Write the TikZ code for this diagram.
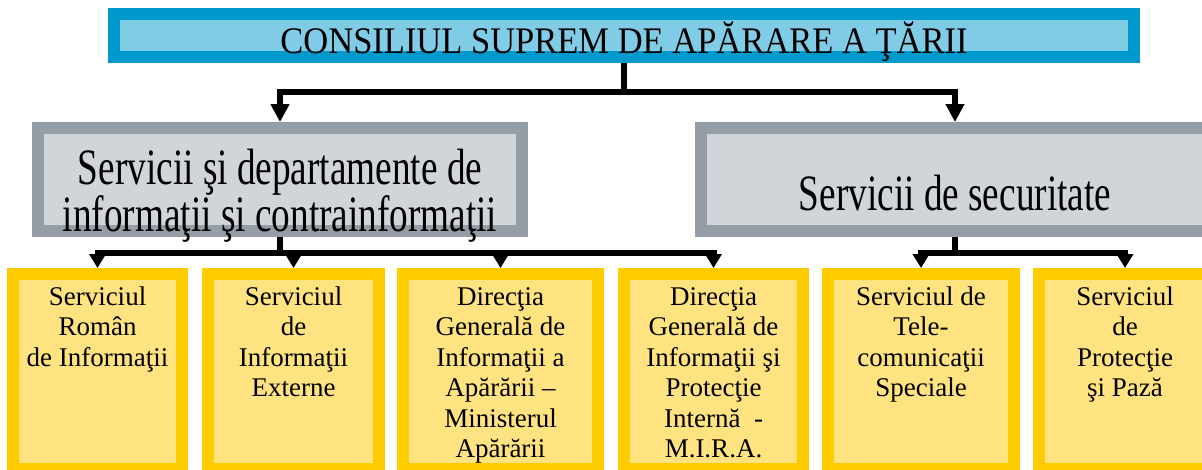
\documentclass[tikz,border=0pt]{standalone}
\usepackage{fontspec}
\setmainfont{Liberation Serif}
\newfontfamily\titlefont[FakeStretch=0.92]{Liberation Serif}
\newfontfamily\headfont[FakeStretch=0.73]{Liberation Serif}
\usetikzlibrary{positioning, arrows.meta}
\definecolor{csatblue}{HTML}{0099CC}
\definecolor{paleblue}{HTML}{80CCE6}
\definecolor{servgray}{HTML}{959DA6}
\definecolor{palegray}{HTML}{D1D4D9}
\definecolor{unitgold}{HTML}{FFCC00}
\definecolor{palegold}{HTML}{FFE380}

\begin{document}
\begin{tikzpicture}[x=1pt, y=1pt,
    topbox/.style={draw=csatblue, fill=paleblue, line width=12pt, inner sep=0pt,
      minimum width=1020pt, minimum height=43pt, text height=39pt, text depth=4pt,
      font=\titlefont\fontsize{37.5}{40}\selectfont},
    groupbox/.style={draw=servgray, fill=palegray, line width=12pt, inner sep=0pt,
      minimum height=103pt, align=flush center, font=\headfont\fontsize{51}{36}\selectfont},
    unitbox/.style={draw=unitgold, fill=palegold, line width=12pt, inner sep=0pt,
      minimum height=195pt, text width=150pt, text height=31pt, text depth=164pt,
      align=flush center, anchor=north, font=\fontsize{27}{30.5}\selectfont},
    link/.style={line width=6.5pt, -{Triangle[length=18pt, width=18pt]}},
    sublink/.style={line width=6pt, -{Triangle[length=14pt, width=16pt]}}]
  \useasboundingbox (0,0) rectangle (1202,-469);

  % top level
  \node[topbox] (csat) at (624,-35.5) {CONSILIUL SUPREM DE APĂRARE A ŢĂRII};

  % the two groups
  \node[groupbox, minimum width=484pt, text width=470pt, text height=56pt, text depth=47pt]
    (sdi) at (280,-179.5) {Servicii şi departamente de\\informaţii şi contrainformaţii};
  \node[groupbox, minimum width=508pt, text height=82pt, text depth=21pt]
    (ssec) at (955,-179.5) {Servicii de securitate};

  % the services
  \node[unitbox, minimum width=169pt] (sri) at (97.5,-268)
    {Serviciul\\Român\\de Informaţii};
  \node[unitbox, minimum width=171pt] (sie) at (293.5,-268)
    {Serviciul\\de\\Informaţii\\Externe};
  \node[unitbox, minimum width=195pt] (dgia) at (500.5,-268)
    {Direcţia\\Generală de\\Informaţii a\\Apărării --\\Ministerul\\Apărării};
  \node[unitbox, minimum width=179pt] (dgipi) at (713.5,-268)
    {Direcţia\\Generală de\\Informaţii şi\\Protecţie\\Internă \ -\\M.I.R.A.};
  \node[unitbox, minimum width=186pt] (sts) at (921,-268)
    {Serviciul de\\Tele-\\comunicaţii\\Speciale};
  \node[unitbox, minimum width=172pt] (spp) at (1125,-268)
    {Serviciul\\de\\Protecţie\\şi Pază};

  % connectors
  \draw[link] (csat.south) -- ++(0,-29) -| (sdi.north);
  \draw[link] (csat.south) -- ++(0,-29) -| (ssec.north);
  \foreach \unit in {sri, sie, dgia, dgipi}
    \draw[sublink] (sdi.south) -- ++(0,-16) -| (\unit.north);
  \foreach \unit in {sts, spp}
    \draw[sublink] (ssec.south) -- ++(0,-16) -| (\unit.north);
\end{tikzpicture}
\end{document}
